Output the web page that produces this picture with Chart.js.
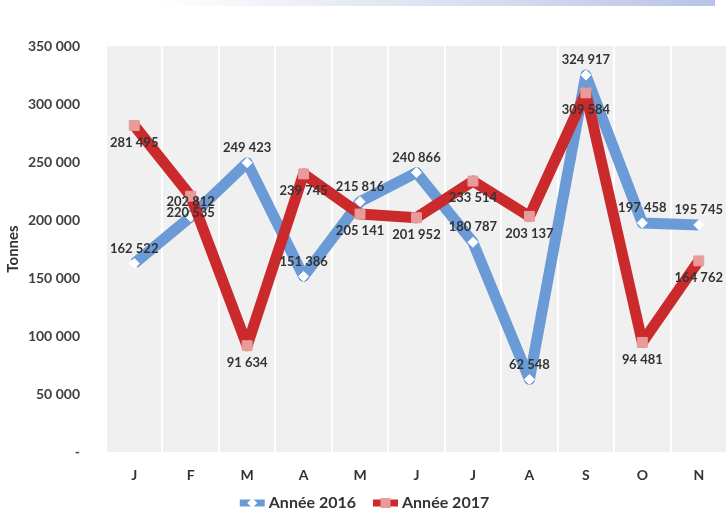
<!DOCTYPE html>
<html lang="fr">
<head>
<meta charset="utf-8">
<title>Tonnages mensuels 2016 / 2017</title>
<script src="https://cdn.jsdelivr.net/npm/chart.js@4/dist/chart.umd.min.js"></script>
<style>
  html, body { margin: 0; padding: 0; background: #ffffff; }
  #wrap { position: relative; width: 727px; height: 511px; }
  #band {
    position: absolute; left: 155px; top: 0; width: 560px; height: 6px;
    background: linear-gradient(to right, #ffffff 0%, #e6eaf4 35%, #d3daee 65%, #b8c3e6 100%);
  }
  canvas { position: absolute; left: 0; top: 0; }
</style>
</head>
<body>
<div id="wrap">
  <div id="band"></div>
  <canvas id="chart" width="727" height="511"></canvas>
</div>
<script>
// Mois (initiales)
const months = ['J', 'F', 'M', 'A', 'M', 'J', 'J', 'A', 'S', 'O', 'N'];

// Tonnages mensuels
const tonnes2016 = [162522, 202812, 249423, 151386, 215816, 240866, 180787, 62548, 324917, 197458, 195745];
const tonnes2017 = [281495, 220535, 91634, 239745, 205141, 201952, 233514, 203137, 309584, 94481, 164762];

// Noms des séries
const seriesNames = ['Année 2016', 'Année 2017'];

// Graduations de l'axe vertical
const yTicks = [0, 50000, 100000, 150000, 200000, 250000, 300000, 350000];

const FONT = 'Lato, "Open Sans", sans-serif';
const BLUE = '#6a9bd6';
const RED = '#cb2a2c';

function fmt(v) {
  if (v === 0) return '-';
  return String(v).replace(/\B(?=(\d{3})+(?!\d))/g, ' ');
}

// Fond gris de la zone de tracé
const plotBackground = {
  id: 'plotBackground',
  beforeDraw(chart) {
    const { ctx, chartArea: a } = chart;
    ctx.save();
    ctx.fillStyle = '#f0f0f0';
    ctx.fillRect(a.left, a.top, a.right - a.left, a.bottom - a.top);
    ctx.restore();
  }
};

// Étiquettes de valeur au-dessus / au-dessous des points
const valueLabels = {
  id: 'valueLabels',
  afterDatasetsDraw(chart, args, opts) {
    const ctx = chart.ctx;
    ctx.save();
    ctx.font = 'bold 13px ' + FONT;
    ctx.fillStyle = '#333333';
    ctx.textAlign = 'center';
    ctx.textBaseline = 'middle';
    chart.data.datasets.forEach((ds, i) => {
      const meta = chart.getDatasetMeta(i);
      const dy = opts.offsets[i];
      meta.data.forEach((pt, j) => {
        ctx.fillText(fmt(ds.data[j]), pt.x, pt.y + dy);
      });
    });
    ctx.restore();
  }
};

// Légende : trait + marqueur, puis libellé
const lineLegend = {
  id: 'lineLegend',
  afterDraw(chart, args, opts) {
    const ctx = chart.ctx;
    ctx.save();
    ctx.font = 'bold 16px ' + FONT;
    const sw = 29, gap = 2, between = 15;
    const items = chart.data.datasets.map(ds => ({ ds, w: sw + gap + ctx.measureText(ds.label).width }));
    const total = items.reduce((s, it) => s + it.w, 0) + between * (items.length - 1);
    let x = chart.width / 2 - total / 2;
    const y = opts.y;
    items.forEach(({ ds }) => {
      ctx.strokeStyle = ds.borderColor;
      ctx.lineWidth = 7;
      ctx.beginPath();
      ctx.moveTo(x + 2, y);
      ctx.lineTo(x + sw - 2, y);
      ctx.stroke();
      ctx.fillStyle = ds.pointBackgroundColor;
      if (ds.pointStyle === 'rectRot') {
        ctx.beginPath();
        ctx.moveTo(x + sw / 2, y - 5);
        ctx.lineTo(x + sw / 2 + 5, y);
        ctx.lineTo(x + sw / 2, y + 5);
        ctx.lineTo(x + sw / 2 - 5, y);
        ctx.closePath();
        ctx.fill();
      } else {
        ctx.fillRect(x + sw / 2 - 5, y - 5, 10, 10);
      }
      ctx.fillStyle = '#333333';
      ctx.textAlign = 'left';
      ctx.textBaseline = 'middle';
      ctx.fillText(ds.label, x + sw + gap, y);
      x += sw + gap + ctx.measureText(ds.label).width + between;
    });
    ctx.restore();
  }
};

new Chart(document.getElementById('chart'), {
  type: 'line',
  data: {
    labels: months,
    datasets: [
      {
        label: seriesNames[0],
        data: tonnes2016,
        borderColor: BLUE,
        borderWidth: 11,
        borderJoinStyle: 'round',
        pointStyle: 'rectRot',
        pointRadius: 5,
        pointBackgroundColor: '#ffffff',
        pointBorderColor: '#ffffff',
        pointBorderWidth: 1,
        tension: 0,
        order: 1
      },
      {
        label: seriesNames[1],
        data: tonnes2017,
        borderColor: RED,
        borderWidth: 11,
        borderJoinStyle: 'round',
        pointStyle: 'rect',
        pointRadius: 7,
        pointBackgroundColor: '#e89b9b',
        pointBorderColor: '#e89b9b',
        pointBorderWidth: 1,
        tension: 0,
        order: 0
      }
    ]
  },
  options: {
    responsive: false,
    animation: false,
    events: [],
    layout: { autoPadding: false, padding: { top: 46, right: 0, bottom: 0, left: 0 } },
    scales: {
      x: {
        type: 'category',
        offset: true,
        border: { display: false },
        grid: { display: true, offset: true, color: '#ffffff', lineWidth: 2, drawTicks: false },
        ticks: { color: '#333333', font: { family: FONT, size: 14, weight: 'bold' }, padding: 15 },
        afterFit(scale) {
          scale.height = 59;
          scale.paddingLeft = 0;
          scale.paddingRight = 0;
        }
      },
      y: {
        min: 0,
        max: 350000,
        border: { display: false },
        grid: { display: false, drawTicks: false },
        afterBuildTicks(scale) { scale.ticks = yTicks.map(v => ({ value: v })); },
        ticks: {
          color: '#404040',
          font: { family: FONT, size: 14, weight: 'bold' },
          padding: 26,
          callback: v => fmt(v)
        },
        title: {
          display: true,
          text: 'Tonnes',
          color: '#333333',
          font: { family: FONT, size: 15, weight: 'bold' },
          padding: { top: 4, bottom: 0 }
        },
        afterFit(scale) { scale.width = 106; }
      }
    },
    plugins: {
      legend: { display: false },
      tooltip: { enabled: false },
      valueLabels: { offsets: [-15, 17] },
      lineLegend: { y: 503 }
    }
  },
  plugins: [plotBackground, valueLabels, lineLegend]
});
</script>
</body>
</html>
